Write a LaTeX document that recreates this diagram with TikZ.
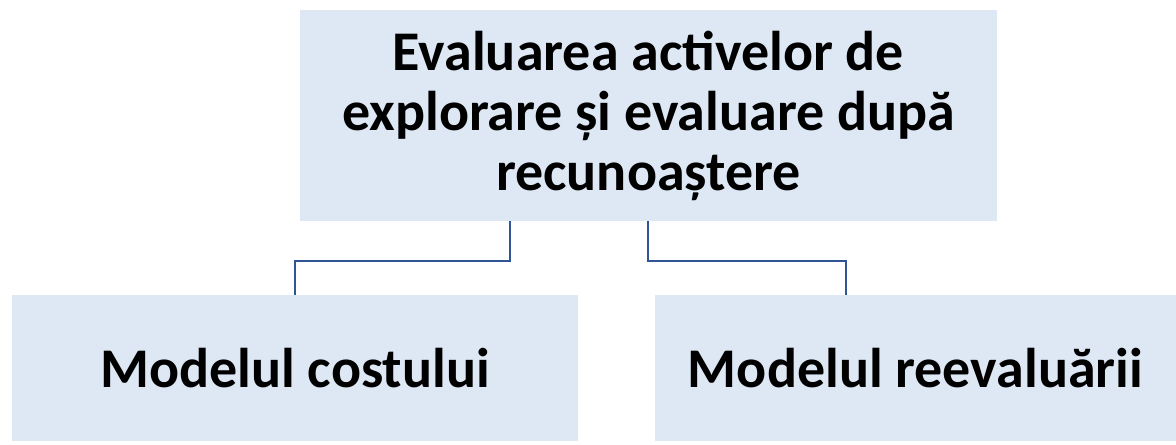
\documentclass[tikz,border=0pt]{standalone}
\usepackage{fontspec}
\setmainfont{Carlito}
\usetikzlibrary{calc}

\definecolor{boxfill}{HTML}{DEE8F4}
\definecolor{linkblue}{HTML}{2F5597}

\begin{document}
\begin{tikzpicture}[
        every node/.style={fill=boxfill, inner sep=0pt, align=center,
            font=\fontsize{28}{30}\selectfont\bfseries},
        link/.style={draw=linkblue, line width=1pt},
    ]
    \useasboundingbox (0,0) rectangle (588pt,-222pt);

    % Boxes.
    \node[minimum width=348.5pt, minimum height=105.5pt] (root) at (324.25pt,-57.75pt)
        {Evaluarea activelor de\\explorare și evaluare după\\recunoaștere};
    \node[minimum width=283pt, minimum height=73pt] (cost) at (147.5pt,-184pt)
        {Modelul costului};
    \node[minimum width=260.5pt, minimum height=73pt] (reev) at (457.75pt,-184pt)
        {Modelul reevaluării};

    % Connectors.
    \coordinate (outl) at ($(root.south) + (-69.25pt,0)$);
    \coordinate (outr) at ($(root.south) + (-0.25pt,0)$);
    \coordinate (inr) at ($(reev.north) + (-34.75pt,0)$);

    \draw[link] (outl) -- ++(0,-20pt) -| (cost.north);
    \draw[link] (outr) -- ++(0,-20pt) -| (inr);
\end{tikzpicture}
\end{document}
